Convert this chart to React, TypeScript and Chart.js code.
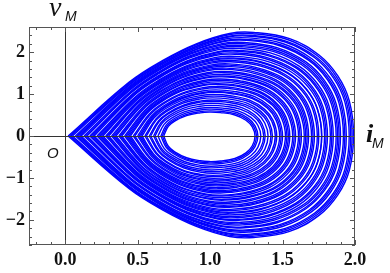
import React, { useEffect, useRef } from "react";
import { Chart, registerables } from "chart.js";
Chart.register(...registerables);

// Each loop of the trajectory: crossings of the i-axis (left/right) and extreme v values
const loopRight = [1.99, 1.98, 1.97, 1.96, 1.94, 1.93, 1.92, 1.9, 1.89, 1.88, 1.87, 1.85, 1.84, 1.83, 1.81, 1.8, 1.79, 1.77, 1.77, 1.75, 1.74, 1.72, 1.71, 1.7, 1.68, 1.67, 1.66, 1.65, 1.63, 1.62, 1.61, 1.59, 1.58, 1.57, 1.55, 1.54, 1.53, 1.52, 1.5, 1.49, 1.48, 1.46, 1.45, 1.43, 1.42, 1.4, 1.38, 1.37, 1.35, 1.33, 1.32, 1.31];
const loopLeft = [0.02, 0.03, 0.04, 0.05, 0.07, 0.08, 0.09, 0.1, 0.11, 0.13, 0.14, 0.15, 0.17, 0.18, 0.19, 0.2, 0.22, 0.23, 0.24, 0.25, 0.26, 0.28, 0.29, 0.3, 0.32, 0.33, 0.34, 0.35, 0.37, 0.38, 0.39, 0.41, 0.42, 0.43, 0.44, 0.45, 0.47, 0.48, 0.5, 0.51, 0.52, 0.53, 0.55, 0.56, 0.58, 0.59, 0.61, 0.62, 0.64, 0.66, 0.67, 0.68];
const loopTop = [2.47, 2.44, 2.4, 2.38, 2.34, 2.3, 2.28, 2.23, 2.2, 2.16, 2.13, 2.09, 2.04, 2.02, 1.98, 1.95, 1.9, 1.86, 1.84, 1.8, 1.77, 1.72, 1.69, 1.66, 1.62, 1.59, 1.54, 1.51, 1.47, 1.43, 1.41, 1.36, 1.33, 1.29, 1.25, 1.23, 1.18, 1.15, 1.1, 1.06, 1.04, 0.99, 0.95, 0.91, 0.86, 0.83, 0.78, 0.73, 0.68, 0.64, 0.6, 0.57];
const loopBottom = [-2.42, -2.39, -2.36, -2.34, -2.29, -2.26, -2.24, -2.19, -2.17, -2.12, -2.09, -2.06, -2.01, -1.99, -1.95, -1.92, -1.88, -1.84, -1.82, -1.78, -1.75, -1.7, -1.68, -1.65, -1.61, -1.58, -1.53, -1.51, -1.47, -1.43, -1.41, -1.36, -1.33, -1.3, -1.26, -1.23, -1.19, -1.16, -1.12, -1.08, -1.05, -1.01, -0.97, -0.94, -0.89, -0.85, -0.81, -0.76, -0.72, -0.67, -0.64, -0.61];

// Loop outline: outer loops are teardrops, inner loops egg-shaped
const outerU = [0, 0.214, 0.332, 0.449, 0.566, 0.65, 0.776, 0.88, 0.945, 0.985, 1];
const outerF = [0, 0.52, 0.73, 0.89, 0.99, 1.0, 0.94, 0.78, 0.58, 0.34, 0];
const innerU = [0, 0.05, 0.12, 0.25, 0.4, 0.5, 0.62, 0.78, 0.9, 0.97, 1];
const innerF = [0, 0.4, 0.62, 0.85, 0.97, 1.0, 0.98, 0.88, 0.66, 0.38, 0];

const xMajor = [0, 0.5, 1, 1.5, 2];
const yMajor = [-2, -1, 0, 1, 2];

function buildLoop(k: number) {
  const L = loopLeft[k], R = loopRight[k], T = loopTop[k], B = loopBottom[k];
  const w = R - L;
  const s = Math.max(0, Math.min(1, (w - 0.63) / 1.34));
  const pts: { x: number; y: number }[] = [];
  const u = outerU.map((o, i) => innerU[i] * (1 - s) + o * s);
  const f = outerF.map((o, i) => innerF[i] * (1 - s) + o * s);
  for (let i = 0; i < u.length; i++) pts.push({ x: L + u[i] * w, y: f[i] * T });
  for (let i = u.length - 2; i >= 0; i--) pts.push({ x: L + u[i] * w, y: f[i] * B });
  return pts;
}

const decor = {
  id: "decor",
  afterDatasetsDraw(chart: any) {
    const { ctx, chartArea: a, scales } = chart;
    const x = scales.x, y = scales.y;
    ctx.save();
    ctx.lineWidth = 1;
    ctx.strokeStyle = "#333";
    const x0 = Math.round(x.getPixelForValue(0)) + 0.5;
    const y0 = Math.round(y.getPixelForValue(0)) + 0.5;
    ctx.beginPath();
    ctx.moveTo(x0, a.top);
    ctx.lineTo(x0, a.bottom);
    ctx.moveTo(a.left, y0);
    ctx.lineTo(a.right, y0);
    ctx.stroke();
    // frame
    ctx.strokeStyle = "#555";
    ctx.strokeRect(a.left + 0.5, a.top + 0.5, a.right - a.left - 1, a.bottom - a.top - 1);
    // ticks
    ctx.beginPath();
    for (let i = -2; i <= 20; i++) {
      const v = i / 10;
      const px = Math.round(x.getPixelForValue(v)) + 0.5;
      const len = i % 5 === 0 ? 5 : 3;
      ctx.moveTo(px, a.bottom);
      ctx.lineTo(px, a.bottom - len);
      ctx.moveTo(px, a.top);
      ctx.lineTo(px, a.top + len);
    }
    for (let i = -13; i <= 13; i++) {
      const v = i / 5;
      const py = Math.round(y.getPixelForValue(v)) + 0.5;
      const len = i % 5 === 0 ? 5 : 3;
      ctx.moveTo(a.left, py);
      ctx.lineTo(a.left + len, py);
      ctx.moveTo(a.right, py);
      ctx.lineTo(a.right - len, py);
    }
    ctx.stroke();
    ctx.restore();
  },
  afterDraw(chart: any) {
    const { ctx } = chart;
    ctx.save();
    ctx.fillStyle = "#111";
    ctx.textBaseline = "alphabetic";
    ctx.textAlign = "left";
    ctx.font = 'italic 28px "Liberation Serif"';
    ctx.fillText("v", 49, 16);
    ctx.font = 'italic 14px "Liberation Sans"';
    ctx.fillText("M", 65, 21);
    ctx.font = 'italic bold 26px "Liberation Serif"';
    ctx.fillText("i", 366, 142);
    ctx.font = 'italic 14px "Liberation Sans"';
    ctx.fillText("M", 372, 148);
    ctx.font = 'italic 15px "Liberation Sans"';
    ctx.fillText("O", 47, 158);
    ctx.restore();
  },
};

export default function App() {
  const ref = useRef<HTMLCanvasElement>(null);
  useEffect(() => {
    const datasets = loopLeft.map((_, k) => ({
      data: buildLoop(k),
      showLine: true,
      borderColor: "#0000ff",
      borderWidth: 1.4,
      pointRadius: 0,
      tension: 0.4,
      fill: false,
    }));
    const tickFont = { family: '"Liberation Serif"', size: 18, weight: "bold" as const };
    const chart = new Chart(ref.current!, {
      type: "scatter",
      data: { datasets },
      plugins: [decor],
      options: {
        animation: false,
        responsive: false,
        devicePixelRatio: 1,
        layout: { padding: { top: 27, right: 35, left: 0, bottom: 0 } },
        plugins: { legend: { display: false }, tooltip: { enabled: false } },
        scales: {
          x: {
            type: "linear",
            min: -0.25,
            max: 2.0,
            grid: { display: false, drawTicks: false },
            border: { display: false },
            afterBuildTicks: (s: any) => { s.ticks = xMajor.map((v) => ({ value: v })); },
            afterFit: (s: any) => { s.height = 28; },
            ticks: {
              padding: 5,
              color: "#111",
              font: tickFont,
              maxRotation: 0,
              callback: (v: any) => Number(v).toFixed(1),
            },
          },
          y: {
            type: "linear",
            min: -2.6,
            max: 2.6,
            grid: { display: false, drawTicks: false },
            border: { display: false },
            afterBuildTicks: (s: any) => { s.ticks = yMajor.map((v) => ({ value: v })); },
            afterFit: (s: any) => { s.width = 29; },
            ticks: {
              padding: 4,
              color: "#111",
              font: tickFont,
              callback: (v: any) => (Number(v) < 0 ? "\u2212" + Math.abs(Number(v)) : String(v)),
            },
          },
        },
      },
    });
    return () => chart.destroy();
  }, []);
  return (
    <div style={{ position: "absolute", left: 0, top: 0, width: 390, height: 273, background: "#fff" }}>
      <canvas ref={ref} width={390} height={273} />
    </div>
  );
}
